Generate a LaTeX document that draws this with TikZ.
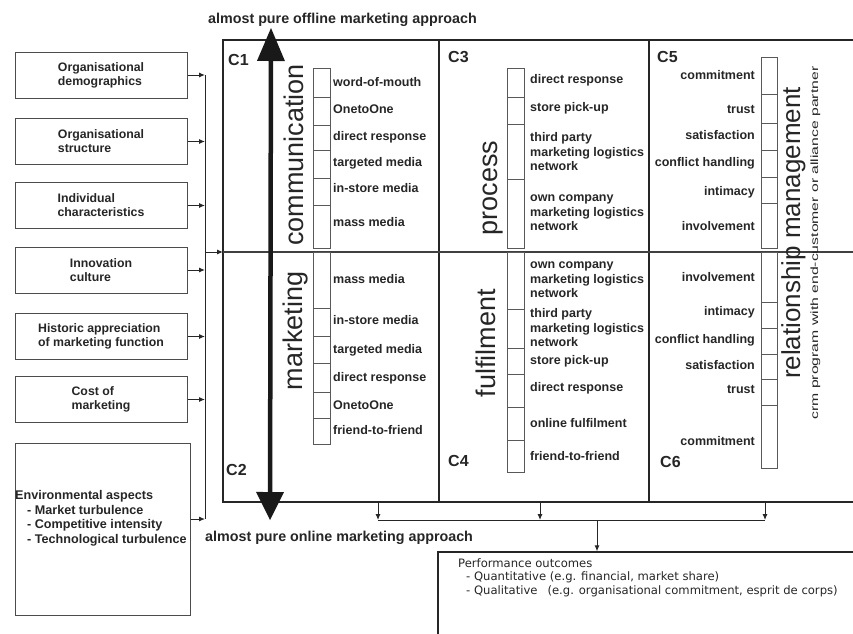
\documentclass[tikz,border=0pt]{standalone}
\usepackage{fontspec}
\setmainfont{Liberation Sans}
\newfontfamily\perffont{DejaVu Sans}
\usetikzlibrary{arrows.meta}
\begin{document}
\begin{tikzpicture}[x=1pt,y=-1pt,
  frameline/.style={draw=black!85, line width=1.4pt},
  factorbox/.style={draw=black!70, line width=1pt, minimum width=172pt, minimum height=46pt,
    inner sep=0pt, align=left, text=black!85, font=\fontsize{12.3}{14}\selectfont\bfseries},
  link/.style={draw=black!85, line width=1pt},
  linkarrow/.style={link, -{Latex[length=6pt,width=5pt]}},
  cellbar/.style={draw=black!65, line width=0.7pt},
  item/.style={inner sep=0pt, text=black!85, font=\fontsize{12.5}{14.5}\selectfont\bfseries},
  itemL/.style={item, anchor=west, align=left},
  itemR/.style={item, anchor=east, align=right},
  quad/.style={inner sep=0pt, anchor=base west, text=black!85, font=\fontsize{16}{16}\selectfont\bfseries},
  dimlabel/.style={inner sep=0pt, rotate=90, anchor=base, text=black!85, font=\fontsize{27}{27}\selectfont},
  axislabel/.style={inner sep=0pt, anchor=base west, text=black!85, font=\fontsize{14.3}{16}\selectfont\bfseries}
]
\useasboundingbox (0,0) rectangle (853,633);
\fill[white] (0,0) rectangle (853,633);

% ---------- antecedent factors ----------
\node[factorbox] (f1) at (101,75)    {Organisational\\demographics};
\node[factorbox] (f2) at (101,141.5) {Organisational\\structure};
\node[factorbox] (f3) at (101,205.5) {Individual\\characteristics};
\node[factorbox] (f4) at (101,270)   {Innovation\\culture};
\node[factorbox] (f5) at (101,336.5) {Historic appreciation\\of marketing function};
\node[factorbox] (f6) at (101,399.5) {Cost of\\marketing};
\node[draw=black!70, line width=1pt, minimum width=175pt, minimum height=172pt, inner sep=0pt] (f7) at (102.5,529) {};
\node[anchor=west, align=left, inner sep=0pt, text=black!85, font=\fontsize{12.6}{14.5}\selectfont\bfseries]
  (envtext) at (15,518.5) {Environmental aspects\\\hspace{12pt}- Market turbulence\\\hspace{12pt}- Competitive intensity\\\hspace{12pt}- Technological turbulence};

% collecting bus into the matrix
\coordinate (bus) at (205,252);
\foreach \f in {f1,f2,f3,f4,f5,f6}
  \draw[linkarrow] (\f.east) -- (\f.east -| bus);
\draw[linkarrow] ([yshift=10pt]f7.east) -- ([yshift=10pt]f7.east -| bus);
\draw[link] (f1.east -| bus) -- ([yshift=10pt]f7.east -| bus);

% ---------- matrix frame ----------
\coordinate (midL) at (223,252);
\coordinate (midR) at (880,252);
\draw[frameline] (880,40) -- (223,40) -- (223,502) -- (880,502);
\draw[frameline] (439,40) -- (439,502);
\draw[frameline] (649,40) -- (649,502);
\draw[linkarrow] (bus) -- (midL);
\draw[draw=black!75, line width=2.6pt] (midL) -- (midR);

% ---------- scale bars ----------
% C1 / C2
\draw[cellbar] (313,68) rectangle (330,248);
\foreach \y in {97,125,150,178,205} \draw[cellbar] (313,\y) -- (330,\y);
\draw[cellbar] (313,252) rectangle (330,444);
\foreach \y in {308,336,363,392,418} \draw[cellbar] (313,\y) -- (330,\y);
% C3 / C4
\draw[cellbar] (507,68) rectangle (524,248);
\foreach \y in {97,124,179} \draw[cellbar] (507,\y) -- (524,\y);
\draw[cellbar] (507,252) rectangle (524,472);
\foreach \y in {309,348,374,407,440} \draw[cellbar] (507,\y) -- (524,\y);
% C5 / C6
\draw[cellbar] (761,57) rectangle (777,248);
\foreach \y in {94,123,150,177,203} \draw[cellbar] (761,\y) -- (777,\y);
\draw[cellbar] (761,252) rectangle (777,468);
\foreach \y in {302,328,354,379,405} \draw[cellbar] (761,\y) -- (777,\y);

% ---------- quadrant labels ----------
\node[quad] (c1) at (228,65)  {C1};
\node[quad] (c2) at (226,475) {C2};
\node[quad] (c3) at (448,62)  {C3};
\node[quad] (c4) at (448,466) {C4};
\node[quad] (c5) at (657,62)  {C5};
\node[quad] (c6) at (660,467) {C6};

% ---------- item labels ----------
\node[itemL] (a1) at (333,82)  {word-of-mouth};
\node[itemL] (a2) at (333,109) {OnetoOne};
\node[itemL] (a3) at (333,137) {direct response};
\node[itemL] (a4) at (333,163) {targeted media};
\node[itemL] (a5) at (333,188) {in-store media};
\node[itemL] (a6) at (333,222) {mass media};
\node[itemL] (b1) at (333,279) {mass media};
\node[itemL] (b2) at (333,320) {in-store media};
\node[itemL] (b3) at (333,350) {targeted media};
\node[itemL] (b4) at (333,378) {direct response};
\node[itemL] (b5) at (333,405) {OnetoOne};
\node[itemL] (b6) at (333,430) {friend-to-friend};

\node[itemL] (p1) at (530,80)  {direct response};
\node[itemL] (p2) at (530,108) {store pick-up};
\node[itemL] (p3) at (530,152) {third party\\marketing logistics\\network};
\node[itemL] (p4) at (530,213) {own company\\marketing logistics\\network};
\node[itemL] (q1) at (530,280) {own company\\marketing logistics\\network};
\node[itemL] (q2) at (530,328) {third party\\marketing logistics\\network};
\node[itemL] (q3) at (530,361) {store pick-up};
\node[itemL] (q4) at (530,388) {direct response};
\node[itemL] (q5) at (530,423) {online fulfilment};
\node[itemL] (q6) at (530,456) {friend-to-friend};

\node[itemR] (r1) at (755,75)  {commitment};
\node[itemR] (r2) at (755,109) {trust};
\node[itemR] (r3) at (755,135) {satisfaction};
\node[itemR] (r4) at (755,163) {conflict handling};
\node[itemR] (r5) at (755,192) {intimacy};
\node[itemR] (r6) at (755,226) {involvement};
\node[itemR] (s1) at (755,277) {involvement};
\node[itemR] (s2) at (755,312) {intimacy};
\node[itemR] (s3) at (755,340) {conflict handling};
\node[itemR] (s4) at (755,365) {satisfaction};
\node[itemR] (s5) at (755,389) {trust};
\node[itemR] (s6) at (755,441) {commitment};

% ---------- dimension labels ----------
\node[dimlabel] (dc) at (303,155) {communication};
\node[dimlabel] (dm) at (302,331) {marketing};
\node[dimlabel] (dp) at (497,188) {process};
\node[dimlabel] (df) at (495,343) {fulfilment};
\node[dimlabel, font=\fontsize{26}{26}\selectfont] (dr) at (800,233) {relationship management};
\node[inner sep=0pt, rotate=90, anchor=base, text=black!85, font=\fontsize{10.5}{11}\selectfont]
  (dcrm) at (818,243) {\scalebox{1.5}[1]{crm program with end-customer or alliance partner}};

% ---------- offline / online axis ----------
\node[axislabel] (offl) at (208,23)  {almost pure offline marketing approach};
\node[axislabel] (onl)  at (205,541) {almost pure online marketing approach};
\coordinate (axTop) at (271,28);
\coordinate (axBot) at (270,520);
\draw[black!90, line width=4.5pt,
  {Triangle[length=33pt,width=28pt,line width=0pt]}-{Triangle[length=28pt,width=28pt,line width=0pt]}]
  (axTop) -- (axBot);

% ---------- performance outcomes ----------
\node[draw=black!85, line width=1.2pt, minimum width=450pt, minimum height=100pt, inner sep=0pt] (perf) at (663,602) {};
\node[anchor=north west, align=left, inner sep=0pt, text=black!85, font=\perffont\fontsize{11.6}{13.5}\selectfont]
  (perftext) at (458,558) {Performance outcomes\\\hspace{8pt}- Quantitative (e.g. financial, market share)\\\hspace{8pt}- Qualitative\hspace{10pt}(e.g. organisational commitment, esprit de corps)};

\coordinate (o1) at (378,502);
\coordinate (o2) at (540,502);
\coordinate (o3) at (765,502);
\coordinate (obus) at (597,520);
\foreach \o in {o1,o2,o3}
  \draw[linkarrow] (\o) -- (\o |- obus);
\draw[link] (o1 |- obus) -- (o3 |- obus);
\draw[linkarrow] (obus) -- (obus |- perf.north);
\end{tikzpicture}
\end{document}
